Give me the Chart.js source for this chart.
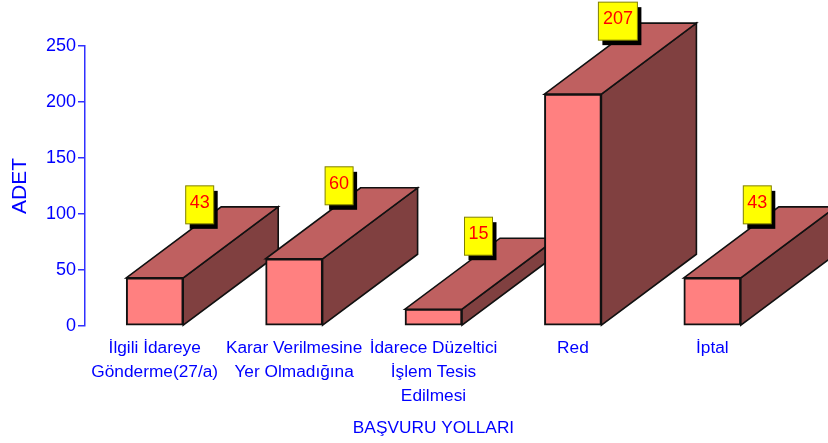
<!DOCTYPE html>
<html><head><meta charset="utf-8">
<style>html,body{margin:0;padding:0;background:#fff}canvas{display:block}</style>
<script src="https://cdn.jsdelivr.net/npm/chart.js@4"></script></head>
<body><canvas id="c" width="828" height="443"></canvas>
<script>
const categories = [["İlgili İdareye","Gönderme(27/a)"],["Karar Verilmesine","Yer Olmadığına"],["İdarece Düzeltici","İşlem Tesis","Edilmesi"],"Red","İptal"];
const values = [43,60,15,207,43];
const yTicks = [0,50,100,150,200,250];
const xTitle = "BAŞVURU YOLLARI";
const yTitle = "ADET";
const BLUE = "#0000ff", FONT = "'Liberation Sans', Arial, sans-serif";
const DX = 95, DY = 71;

function face(ctx, pts, fill){
  ctx.beginPath();
  pts.forEach((p,i)=> i ? ctx.lineTo(p[0],p[1]) : ctx.moveTo(p[0],p[1]));
  ctx.closePath();
  ctx.fillStyle = fill; ctx.fill();
  ctx.lineWidth = 1.6; ctx.strokeStyle = "#111"; ctx.lineJoin = "miter"; ctx.stroke();
}
const depth = {
  id:"depth",
  beforeDatasetsDraw(chart){
    const ctx = chart.ctx;
    ctx.save();
    chart.getDatasetMeta(0).data.forEach(b=>{
      const l=b.x-b.width/2, r=b.x+b.width/2, t=b.y, z=b.base;
      face(ctx,[[r,z],[r,t],[r+DX,t-DY],[r+DX,z-DY]],"#804040");
      face(ctx,[[l,t],[r,t],[r+DX,t-DY],[l+DX,t-DY]],"#bf6060");
    });
    ctx.restore();
  },
  afterDatasetsDraw(chart){
    const ctx = chart.ctx;
    ctx.save();
    chart.getDatasetMeta(0).data.forEach((b,i)=>{
      const txt = String(values[i]);
      const w = txt.length>2 ? 39 : 28, h = 38;
      const cx = b.x+45, cy = b.y-73;
      ctx.fillStyle="#000";
      ctx.fillRect(cx-w/2+4,cy-h/2+5,w,h);
      ctx.fillStyle="#ffff00";
      ctx.fillRect(cx-w/2,cy-h/2,w,h);
      ctx.strokeStyle="#808000"; ctx.lineWidth=1;
      ctx.strokeRect(cx-w/2,cy-h/2,w,h);
      ctx.fillStyle="#ff0000"; ctx.font="18px "+FONT;
      ctx.textAlign="center"; ctx.textBaseline="middle";
      ctx.fillText(txt,cx,cy-2);
    });
    ctx.restore();
  }
};
new Chart(document.getElementById("c"),{
  type:"bar",
  data:{labels:categories,datasets:[{data:values,backgroundColor:"#ff8080",borderColor:"#111",borderWidth:2,borderSkipped:false,barThickness:57}]},
  plugins:[depth],
  options:{
    responsive:false,animation:false,
    layout:{padding:{top:46,right:46,bottom:0,left:0}},
    plugins:{legend:{display:false},tooltip:{enabled:false}},
    scales:{
      x:{
        afterFit(s){s.height=117;},
        grid:{display:false},border:{display:false},
        ticks:{color:BLUE,font:{family:FONT,size:17.3,lineHeight:1.39},padding:2,maxRotation:0,autoSkip:false},
        title:{display:true,text:xTitle,color:BLUE,font:{family:FONT,size:17.3},padding:{top:6,bottom:4}}
      },
      y:{
        min:0,max:250,
        afterFit(s){s.width=85;},
        afterBuildTicks(s){s.ticks=yTicks.map(v=>({value:v}));},
        grid:{drawOnChartArea:false,color:"#3030ff",tickLength:7,lineWidth:1.5},
        border:{color:"#3030ff",width:1.5},
        ticks:{color:BLUE,font:{family:FONT,size:18},padding:2},
        title:{display:true,text:yTitle,color:BLUE,font:{family:FONT,size:21},padding:{top:8,bottom:0}}
      }
    }
  }
});
</script></body></html>
